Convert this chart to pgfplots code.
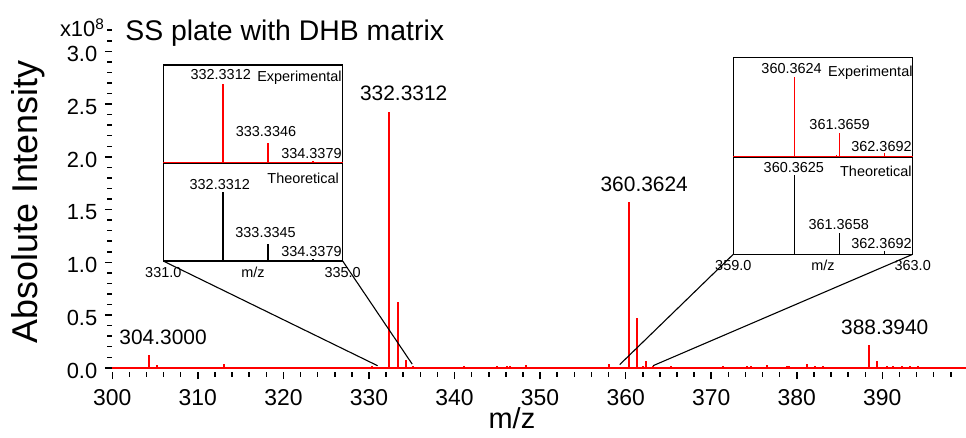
\documentclass[border=0pt]{standalone}
\usepackage{fontspec}
\setmainfont{Liberation Sans}
\usepackage{pgfplots}
\pgfplotsset{compat=1.18}
\newcommand{\fs}[1]{\fontsize{#1}{#1}\selectfont}
\pgfplotsset{
  inset/.style={scale only axis, width=179.4bp, xtick=\empty, ytick=\empty,
    ymin=0, ymax=1, axis line style={black, line width=1.3bp}, clip=false,
    axis background/.style={fill=white}},
  insetbot/.style={major tick length=0pt, xticklabel style={font=\fs{14.5}, anchor=center, yshift=-11.5bp}},
}
\begin{document}
\begin{tikzpicture}
\begin{axis}[
  name=main, at={(0,0)}, anchor=south west,
  scale only axis, width=853.9bp, height=343.4bp,
  xmin=300, xmax=399.8, ymin=-0.035, ymax=3.22,
  axis lines*=left, axis line style={draw=none},
  clip=false,
  tick align=outside,
  xtick={300,310,...,390}, minor xtick={302,304,...,398},
  ytick={0,0.5,...,3.0}, minor ytick={0.1,0.2,...,3.2},
  major tick length=7.5bp, minor tick length=5bp,
  tick style={black, line width=1.5bp},
  /pgf/number format/assume math mode=true,
  xticklabel style={font=\fs{23}, yshift=-7bp},
  yticklabel style={font=\fs{22}, xshift=-4bp, yshift=-3bp, /pgf/number format/.cd, fixed, fixed zerofill, precision=1},
  xlabel={m/z}, ylabel={Absolute Intensity},
  xlabel style={font=\fs{29}, at={(axis description cs:0.468,-0.1354)}, anchor=center},
  ylabel style={font=\fs{36}, at={(axis description cs:-0.0987,0.494)}, anchor=center},
]
\addplot[red, line width=2bp, forget plot] coordinates {(300,0) (399.8,0)};
\addplot[red, ycomb, line width=2bp, no marks] coordinates {
(304.30,0.121) (305.19,0.025) (313.06,0.038) (330.32,0.015) (332.33,2.42)
(333.34,0.627) (334.34,0.072) (335.10,0.015) (341.14,0.015) (344.93,0.015)
(346.10,0.015) (346.48,0.02) (348.35,0.03) (358.00,0.04) (360.36,1.574)
(361.37,0.469) (362.06,0.015) (362.37,0.06) (363.16,0.015) (365.26,0.015)
(371.41,0.015) (374.15,0.015) (374.61,0.015) (376.48,0.025) (378.80,0.015)
(379.10,0.015) (381.16,0.04) (382.13,0.015) (383.10,0.015) (388.39,0.216)
(389.40,0.06) (390.50,0.015) (391.28,0.015) (392.26,0.015) (393.23,0.015)
(394.13,0.015)};
\node[font=\fs{21}, inner sep=0] at (axis cs:305.93,0.287) {304.3000};
\node[font=\fs{21}, inner sep=0] at (axis cs:334.06,2.605) {332.3312};
\node[font=\fs{21}, inner sep=0] at (axis cs:362.17,1.736) {360.3624};
\node[font=\fs{21}, inner sep=0] at (axis cs:390.28,0.382) {388.3940};
\node[font=\fs{28.5}, inner sep=0, anchor=west] at (axis cs:301.5,3.17) {SS plate with DHB matrix};
\node[font=\fs{22}, inner sep=0, anchor=east] at (axis cs:299.1,3.225) {x10\textsuperscript{8}};
\coordinate (Lc) at (axis cs:305.96,1.012);
\coordinate (Rc) at (axis cs:372.58,1.076);
\coordinate (L1) at (axis cs:331,0.02);
\coordinate (L2) at (axis cs:335.05,0.035);
\coordinate (R1) at (axis cs:359.3,0.03);
\coordinate (R2) at (axis cs:363.2,0.02);
\end{axis}
% left inset
\begin{axis}[inset, insetbot, name=Lb, at={(Lc)}, anchor=south west, height=97.7bp,
  xmin=331, xmax=335, xtick={331,335}, xticklabels={331.0,335.0}]
\addplot[black, ycomb, line width=1.5bp, no marks] coordinates {(332.33,0.71) (333.33,0.17) (334.34,0.02)};
\node[font=\fs{14.5}, inner sep=0, anchor=east] at (axis cs:334.92,0.842) {Theoretical};
\node[font=\fs{14.5}, inner sep=0] at (axis cs:332.26,0.783) {332.3312};
\node[font=\fs{14.5}, inner sep=0] at (axis cs:333.28,0.295) {333.3345};
\node[font=\fs{14.5}, inner sep=0, anchor=east] at (axis cs:334.98,0.10) {334.3379};
\node[font=\fs{14.5}, inner sep=0] at (axis cs:333,0) [yshift=-11.5bp] {m/z};
\end{axis}
\begin{axis}[inset, name=Lt, at={(Lb.north west)}, anchor=south west, height=98.3bp,
  xmin=331, xmax=335]
\addplot[red, line width=1.3bp] coordinates {(331,0.005) (335,0.005)};
\addplot[red, ycomb, line width=1.5bp, no marks] coordinates {(332.33,0.81) (333.33,0.21) (334.34,0.025)};
\node[font=\fs{14.5}, inner sep=0, anchor=east] at (axis cs:334.98,0.87) {Experimental};
\node[font=\fs{14.5}, inner sep=0] at (axis cs:332.28,0.90) {332.3312};
\node[font=\fs{14.5}, inner sep=0] at (axis cs:333.29,0.327) {333.3346};
\node[font=\fs{14.5}, inner sep=0, anchor=east] at (axis cs:334.98,0.095) {334.3379};
\end{axis}
% right inset
\begin{axis}[inset, insetbot, name=Rb, at={(Rc)}, anchor=south west, height=97.3bp,
  xmin=359, xmax=363, xtick={359,363}, xticklabels={359.0,363.0}]
\addplot[black, ycomb, line width=1.5bp, no marks] coordinates {(360.36,0.815) (361.37,0.22) (362.37,0.03)};
\node[font=\fs{14.5}, inner sep=0, anchor=east] at (axis cs:362.98,0.854) {Theoretical};
\node[font=\fs{14.5}, inner sep=0] at (axis cs:360.35,0.895) {360.3625};
\node[font=\fs{14.5}, inner sep=0] at (axis cs:361.35,0.304) {361.3658};
\node[font=\fs{14.5}, inner sep=0, anchor=east] at (axis cs:362.98,0.108) {362.3692};
\node[font=\fs{14.5}, inner sep=0] at (axis cs:361,0) [yshift=-11.5bp] {m/z};
\end{axis}
\begin{axis}[inset, name=Rt, at={(Rb.north west)}, anchor=south west, height=99.7bp,
  xmin=359, xmax=363]
\addplot[red, line width=1.3bp] coordinates {(359,0.005) (363,0.005)};
\addplot[red, ycomb, line width=1.5bp, no marks] coordinates {(360.36,0.80) (361.07,0.01) (361.30,0.015) (361.37,0.24) (361.98,0.01) (362.37,0.04)};
\node[font=\fs{14.5}, inner sep=0, anchor=east] at (axis cs:363.0,0.848) {Experimental};
\node[font=\fs{14.5}, inner sep=0] at (axis cs:360.30,0.886) {360.3624};
\node[font=\fs{14.5}, inner sep=0] at (axis cs:361.37,0.329) {361.3659};
\node[font=\fs{14.5}, inner sep=0, anchor=east] at (axis cs:362.98,0.108) {362.3692};
\end{axis}
\draw[black, line width=1.1bp] (Lb.south west) -- (L1);
\draw[black, line width=1.1bp] (Lb.south east) -- (L2);
\draw[black, line width=1.1bp] (Rb.south west) -- (R1);
\draw[black, line width=1.1bp] (Rb.south east) -- (R2);
\pgfresetboundingbox
\path[use as bounding box] (-112.3bp,-66.5bp) rectangle (853.7bp,371.5bp);
\end{tikzpicture}
\end{document}
